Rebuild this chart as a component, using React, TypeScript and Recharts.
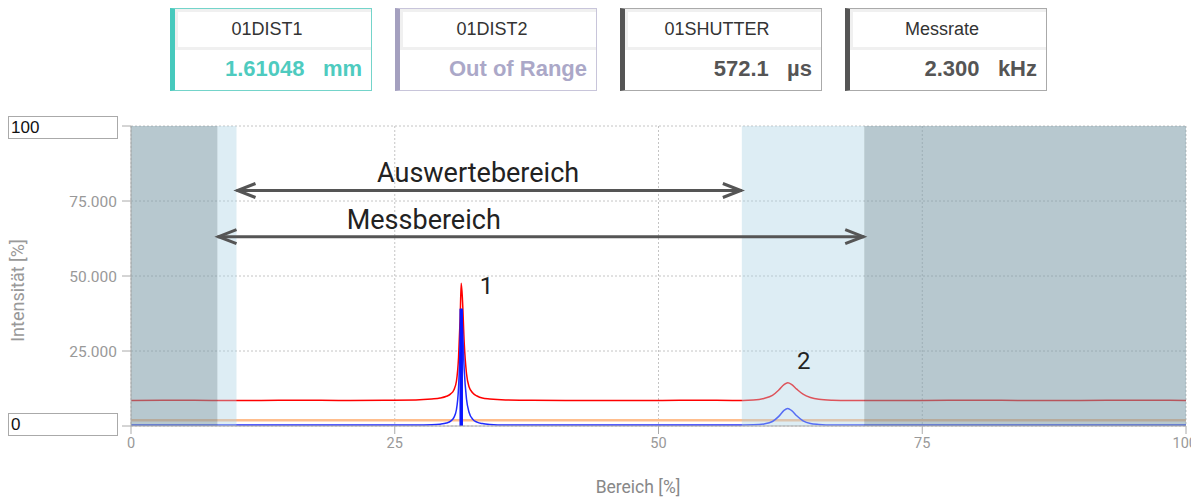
import React from 'react';
import {
  LineChart,
  Line,
  XAxis,
  YAxis,
  CartesianGrid,
  ReferenceArea,
  ReferenceLine,
  ReferenceDot,
} from 'recharts';

// Bereich [%] sample positions of the spectrum
const bereich = [
  0, 4, 8, 12, 16, 20, 24, 27, 28.5, 29.3, 29.9, 30.3, 30.6, 30.85, 31.05, 31.2, 31.3, 31.42, 31.58, 31.8,
  32.05, 32.4, 32.8, 33.3, 34, 35.5, 38, 42, 46, 50, 54, 57, 59, 60, 60.8, 61.4, 61.9, 62.25, 62.6, 63.1,
  63.7, 64.4, 65.2, 66.5, 68, 71, 75, 80, 85, 90, 95, 100,
];
// red raw signal
const rotSignal = [
  8.5, 8.6, 8.5, 8.5, 8.6, 8.5, 8.6, 8.7, 9.0, 9.3, 9.9, 10.7, 12.0, 15.0, 23, 36, 47.6, 42, 28, 17.5,
  13, 11, 10, 9.3, 9.0, 8.7, 8.6, 8.5, 8.5, 8.5, 8.6, 8.5, 8.7, 9.2, 10.2, 12.0, 13.8, 14.4, 13.9, 12.3,
  10.6, 9.5, 8.9, 8.6, 8.5, 8.5, 8.5, 8.6, 8.5, 8.5, 8.6, 8.5,
];
// blue processed signal
const blauSignal = [
  0.3, 0.3, 0.3, 0.3, 0.3, 0.3, 0.3, 0.3, 0.4, 0.6, 1.0, 1.6, 2.8, 5.5, 13, 27, 39.1, 33, 19, 9,
  4.5, 2.2, 1.3, 0.8, 0.5, 0.3, 0.3, 0.3, 0.3, 0.3, 0.3, 0.3, 0.4, 0.7, 1.5, 3.2, 5.2, 5.8, 5.2, 3.4,
  1.7, 0.8, 0.5, 0.3, 0.3, 0.3, 0.3, 0.3, 0.3, 0.3, 0.3, 0.3,
];
const schwelle = 1.9;
const peakPos = 31.3;
const peakHoehe = 39.1;

const messbereich = [8.2, 69.5];
const auswertebereich = [10, 57.9];

const achsenTicks = [0, 25, 50, 75, 100];

const kacheln = [
  { titel: '01DIST1', wert: '1.61048   mm', akzent: '#47c9bd', rand: '#74d4ca', farbe: '#4ecbbf' },
  { titel: '01DIST2', wert: 'Out of Range', akzent: '#a4a0bf', rand: '#c8c5da', farbe: '#aba8c8' },
  { titel: '01SHUTTER', wert: '572.1   µs', akzent: '#555555', rand: '#aaaaaa', farbe: '#555555' },
  { titel: 'Messrate', wert: '2.300   kHz', akzent: '#555555', rand: '#aaaaaa', farbe: '#555555' },
];

const rows = bereich.map((b, i) => ({ bereich: b, rot: rotSignal[i], blau: blauSignal[i] }));

const DoppelPfeil = (props: any) => {
  const { x1, y1, x2, y2 } = props;
  const c = '#555';
  return (
    <g>
      <line x1={x1} y1={y1} x2={x2} y2={y2} stroke={c} strokeWidth={3} />
      <polyline points={`${x1 + 19},${y1 - 7} ${x1 + 1},${y1} ${x1 + 19},${y1 + 7}`} fill="none" stroke={c} strokeWidth={3} />
      <polyline points={`${x2 - 19},${y2 - 7} ${x2 - 1},${y2} ${x2 - 19},${y2 + 7}`} fill="none" stroke={c} strokeWidth={3} />
    </g>
  );
};

// last label kept inside the page edge
const BereichTick = (props: any) => {
  const { x, y, payload } = props;
  const letzter = payload.value === 100;
  return (
    <text
      x={letzter ? x + 11 : x}
      y={y + 10}
      textAnchor={letzter ? 'end' : 'middle'}
      fill="#999"
      fontSize={14.5}
    >
      {String(payload.value)}
    </text>
  );
};

const Kachel = ({ k, left }: { k: (typeof kacheln)[number]; left: number }) => (
  <div
    style={{
      position: 'absolute',
      left,
      top: 0,
      width: 202,
      height: 83,
      boxSizing: 'border-box',
      border: `1px solid ${k.rand}`,
      borderLeft: `5px solid ${k.akzent}`,
      background: '#fff',
      fontFamily: '"Liberation Sans", Arial, sans-serif',
    }}
  >
    <div style={{ background: '#f0f0f0', padding: '3px 0 3px 3px' }}>
      <div
        style={{
          background: '#fff',
          height: 35,
          lineHeight: '35px',
          textAlign: 'center',
          paddingRight: 15,
          fontSize: 18,
          color: '#333',
        }}
      >
        {k.titel}
      </div>
    </div>
    <div
      style={{
        height: 38,
        lineHeight: '38px',
        textAlign: 'right',
        paddingRight: 9,
        fontSize: 22,
        fontWeight: 'bold',
        color: k.farbe,
        whiteSpace: 'pre',
      }}
    >
      {k.wert}
    </div>
  </div>
);

const eingabe: React.CSSProperties = {
  position: 'absolute',
  left: 0,
  width: 110,
  height: 23,
  boxSizing: 'border-box',
  border: '1px solid #aaa',
  background: '#fff',
  fontSize: 17,
  lineHeight: '21px',
  paddingLeft: 2,
  color: '#111',
  fontFamily: '"Liberation Sans", Arial, sans-serif',
};

export default function App() {
  return (
    <div style={{ position: 'relative', width: 1191, height: 490, fontFamily: 'Roboto, sans-serif' }}>
      <style>{'html, body { overflow: hidden; }'}</style>
      <LineChart
        width={1191}
        height={490}
        data={rows}
        margin={{ top: 118, right: 13, bottom: 0, left: 0 }}
        style={{ position: 'absolute', left: 0, top: 0, overflow: 'visible' }}
      >
        <CartesianGrid stroke="#c4c4c4" strokeDasharray="2 2" />
        <XAxis
          type="number"
          dataKey="bereich"
          domain={[0, 100]}
          ticks={achsenTicks}
          interval={0}
          height={72}
          tickSize={8}
          tickMargin={4}
          stroke="#aaa"
          tick={BereichTick}
          label={{
            content: () => (
              <text x={630} y={479} textAnchor="middle" dominantBaseline="central" fill="#888" fontSize={17.5}>
                Bereich [%]
              </text>
            ),
          }}
        />
        <YAxis
          type="number"
          domain={[0, 100]}
          ticks={achsenTicks}
          width={123}
          tickSize={9}
          tickMargin={5}
          stroke="#aaa"
          tick={{ fill: '#999', fontSize: 15.5 }}
          tickFormatter={(v: number) => (v === 0 || v === 100 ? '' : v.toFixed(3))}
          label={{
            content: () => (
              <text
                x={9}
                y={282.5}
                transform="rotate(-90 9 282.5)"
                textAnchor="middle"
                dominantBaseline="central"
                fill="#999"
                fontSize={18}
              >
                Intensität [%]
              </text>
            ),
          }}
        />
        <ReferenceLine y={schwelle} stroke="#ffbd8c" strokeWidth={2.5} />
        <Line type="monotone" dataKey="rot" stroke="#ff0000" strokeWidth={1.5} dot={false} isAnimationActive={false} />
        <Line type="monotone" dataKey="blau" stroke="#1f2bff" strokeWidth={1.5} dot={false} isAnimationActive={false} />
        <ReferenceLine
          segment={[
            { x: peakPos, y: 0 },
            { x: peakPos, y: peakHoehe },
          ]}
          stroke="#0a14ff"
          strokeWidth={3.5}
        />
        <ReferenceArea x1={0} x2={messbereich[0]} fill="#7c9ba8" fillOpacity={0.55} zIndex={450} />
        <ReferenceArea x1={messbereich[0]} x2={auswertebereich[0]} fill="#aad2e3" fillOpacity={0.4} zIndex={450} />
        <ReferenceArea x1={auswertebereich[1]} x2={messbereich[1]} fill="#aad2e3" fillOpacity={0.4} zIndex={450} />
        <ReferenceArea x1={messbereich[1]} x2={100} fill="#7c9ba8" fillOpacity={0.55} zIndex={450} />
        <ReferenceLine
          segment={[
            { x: auswertebereich[0], y: 78.5 },
            { x: auswertebereich[1], y: 78.5 },
          ]}
          shape={DoppelPfeil}
          zIndex={600}
        />
        <ReferenceLine
          segment={[
            { x: messbereich[0], y: 63.1 },
            { x: messbereich[1], y: 63.1 },
          ]}
          shape={DoppelPfeil}
          zIndex={600}
        />
        <ReferenceDot x={32.9} y={84.6} r={1} fill="none" stroke="none" zIndex={600}
          label={{ value: 'Auswertebereich', position: 'center', fontSize: 27, fill: '#222' }} />
        <ReferenceDot x={27.75} y={68.9} r={1} fill="none" stroke="none" zIndex={600}
          label={{ value: 'Messbereich', position: 'center', fontSize: 27, fill: '#222' }} />
        <ReferenceDot x={33.7} y={46.9} r={1} fill="none" stroke="none" zIndex={600}
          label={{ value: '1', position: 'center', fontSize: 24, fill: '#222' }} />
        <ReferenceDot x={63.76} y={21.8} r={1} fill="none" stroke="none" zIndex={600}
          label={{ value: '2', position: 'center', fontSize: 24, fill: '#222' }} />
      </LineChart>

      {kacheln.map((k, i) => (
        <Kachel key={k.titel} k={k} left={162 + i * 225} />
      ))}
      <div style={{ ...eingabe, top: 108 }}>100</div>
      <div style={{ ...eingabe, top: 405 }}>0</div>
    </div>
  );
}
